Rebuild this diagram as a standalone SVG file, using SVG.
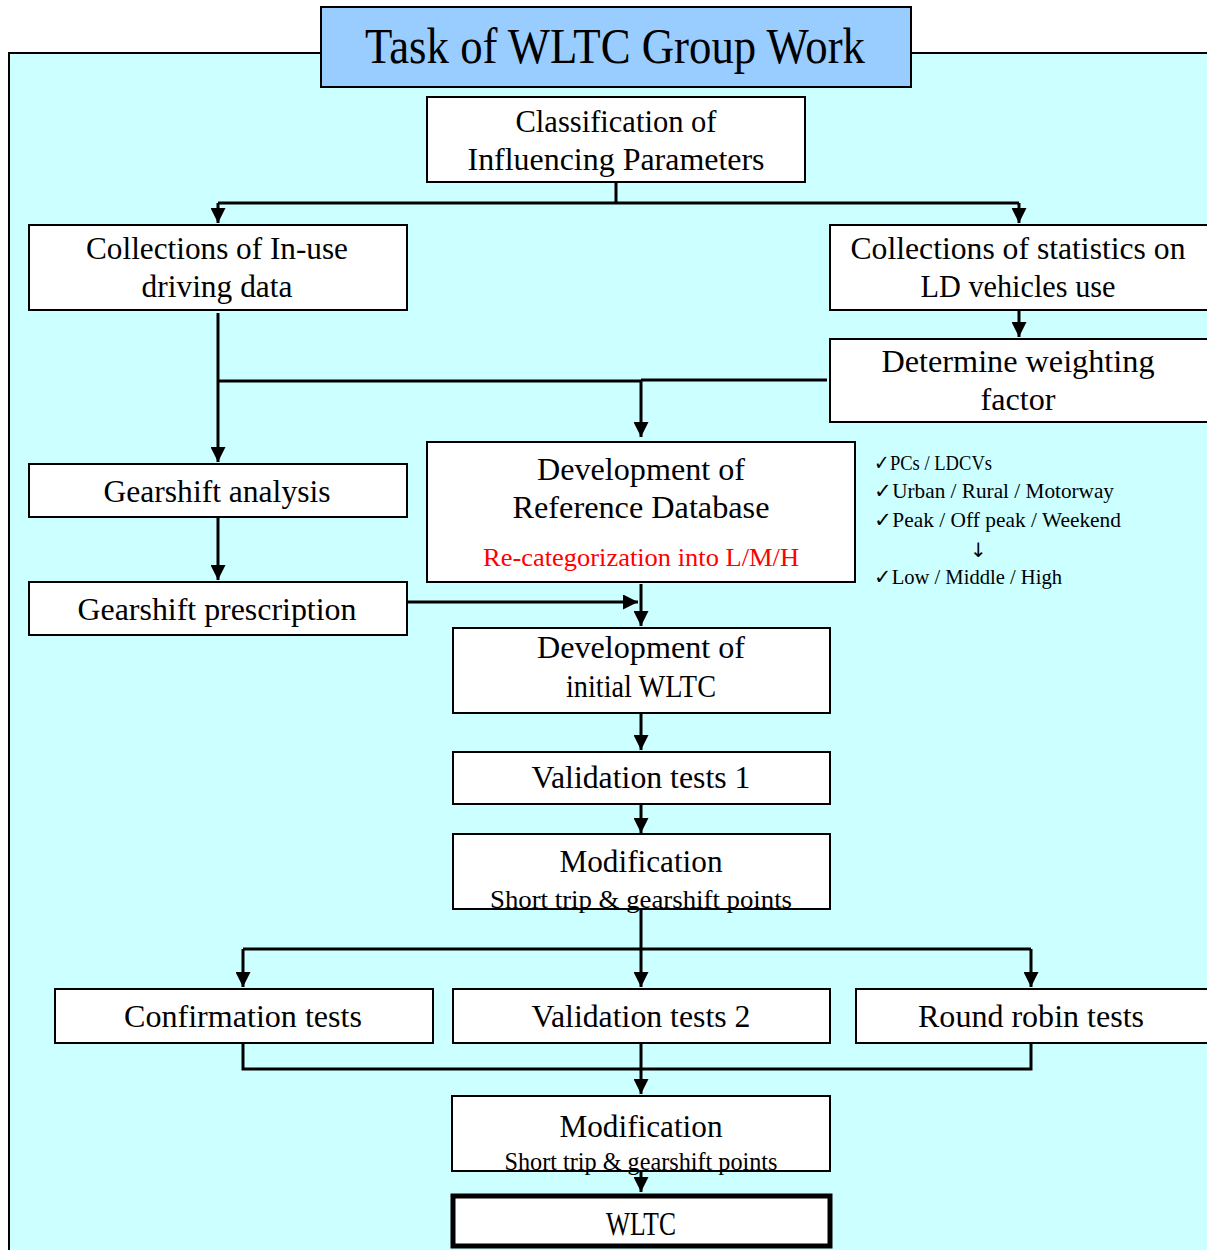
<svg xmlns="http://www.w3.org/2000/svg" width="1207" height="1250" viewBox="0 0 1207 1250">
<style>
.bx{fill:#fff;stroke:#000;stroke-width:2}
.t{font-family:"Liberation Serif","DejaVu Serif",serif;font-size:31px;fill:#000;text-anchor:middle}
.s{font-family:"Liberation Serif","DejaVu Serif",serif;font-size:26px;fill:#000;text-anchor:middle}
.n{font-family:"Liberation Serif","DejaVu Serif",serif;font-size:21px;fill:#000}
.c{fill:none;stroke:#000;stroke-width:3}
</style>
<defs>
<marker id="ah" viewBox="0 0 10 10" refX="10" refY="5" markerWidth="5" markerHeight="5" orient="auto" markerUnits="strokeWidth">
<path d="M0,0 L10,5 L0,10 z" fill="#000"/>
</marker>
</defs>
<rect x="9" y="53" width="1210" height="1210" fill="#CCFFFF" stroke="#000" stroke-width="2"/>
<g id="title">
<rect x="321" y="7" width="590" height="80" fill="#99CCFF" stroke="#000" stroke-width="2"/>
<text x="615" y="63" class="t" style="font-size:50px" textLength="500" lengthAdjust="spacingAndGlyphs">Task of WLTC Group Work</text>
</g>
<g id="connectors">
<path class="c" d="M616,182 V203 M218,203 H1019"/>
<path class="c" d="M218,203 V223" marker-end="url(#ah)"/>
<path class="c" d="M1019,203 V223" marker-end="url(#ah)"/>
<path class="c" d="M1019,310 V337" marker-end="url(#ah)"/>
<path class="c" d="M218,313 V462" marker-end="url(#ah)"/>
<path class="c" d="M218,381 H641 M641,380 H827"/>
<path class="c" d="M641,381 V437" marker-end="url(#ah)"/>
<path class="c" d="M218,517 V580" marker-end="url(#ah)"/>
<path class="c" d="M407,602 H638" marker-end="url(#ah)"/>
<path class="c" d="M641,584 V626" marker-end="url(#ah)"/>
<path class="c" d="M641,713 V750" marker-end="url(#ah)"/>
<path class="c" d="M641,804 V833" marker-end="url(#ah)"/>
<path class="c" d="M641,909 V987" marker-end="url(#ah)"/>
<path class="c" d="M243,949 H1031"/>
<path class="c" d="M243,949 V987" marker-end="url(#ah)"/>
<path class="c" d="M1031,949 V987" marker-end="url(#ah)"/>
<path class="c" d="M243,1043 V1069 H1031 V1043"/>
<path class="c" d="M641,1043 V1094" marker-end="url(#ah)"/>
<path class="c" d="M641,1171 V1192" marker-end="url(#ah)"/>
</g>
<g id="classification">
<rect class="bx" x="427" y="97" width="378" height="85"/>
<text class="t" x="616" y="132" textLength="201" lengthAdjust="spacingAndGlyphs">Classification of</text>
<text class="t" x="616" y="170" textLength="297" lengthAdjust="spacingAndGlyphs">Influencing Parameters</text>
</g>
<g id="inuse">
<rect class="bx" x="29" y="225" width="378" height="85"/>
<text class="t" x="217" y="259" textLength="262" lengthAdjust="spacingAndGlyphs">Collections of In-use</text>
<text class="t" x="217" y="297" textLength="151" lengthAdjust="spacingAndGlyphs">driving data</text>
</g>
<g id="statistics">
<rect class="bx" x="830" y="225" width="390" height="85"/>
<text class="t" x="1018" y="259" textLength="335" lengthAdjust="spacingAndGlyphs">Collections of statistics on</text>
<text class="t" x="1018" y="297" textLength="195" lengthAdjust="spacingAndGlyphs">LD vehicles use</text>
</g>
<g id="weighting">
<rect class="bx" x="830" y="339" width="390" height="83"/>
<text class="t" x="1018" y="372" textLength="273" lengthAdjust="spacingAndGlyphs">Determine weighting</text>
<text class="t" x="1018" y="410" textLength="75" lengthAdjust="spacingAndGlyphs">factor</text>
</g>
<g id="refdb">
<rect class="bx" x="427" y="442" width="428" height="140"/>
<text class="t" x="641" y="480" textLength="208" lengthAdjust="spacingAndGlyphs">Development of</text>
<text class="t" x="641" y="518" textLength="257" lengthAdjust="spacingAndGlyphs">Reference Database</text>
<text class="s" x="641" y="566" style="fill:#FF0000" textLength="316" lengthAdjust="spacingAndGlyphs">Re-categorization into L/M/H</text>
</g>
<g id="notes">
<text class="n" x="874" y="470" textLength="118" lengthAdjust="spacingAndGlyphs">✓PCs / LDCVs</text>
<text class="n" x="874" y="498" textLength="240" lengthAdjust="spacingAndGlyphs">✓Urban / Rural / Motorway</text>
<text class="n" x="874" y="527" textLength="247" lengthAdjust="spacingAndGlyphs">✓Peak / Off peak / Weekend</text>
<text class="n" x="970" y="557" style="font-family:'DejaVu Sans',sans-serif;font-size:20px">↓</text>
<text class="n" x="874" y="584" textLength="188" lengthAdjust="spacingAndGlyphs">✓Low / Middle / High</text>
</g>
<g id="gearanalysis">
<rect class="bx" x="29" y="464" width="378" height="53"/>
<text class="t" x="217" y="502" textLength="227" lengthAdjust="spacingAndGlyphs">Gearshift analysis</text>
</g>
<g id="gearprescription">
<rect class="bx" x="29" y="582" width="378" height="53"/>
<text class="t" x="217" y="620" textLength="279" lengthAdjust="spacingAndGlyphs">Gearshift prescription</text>
</g>
<g id="initialwltc">
<rect class="bx" x="453" y="628" width="377" height="85"/>
<text class="t" x="641" y="658" textLength="208" lengthAdjust="spacingAndGlyphs">Development of</text>
<text class="t" x="641" y="697" textLength="150" lengthAdjust="spacingAndGlyphs">initial WLTC</text>
</g>
<g id="validation1">
<rect class="bx" x="453" y="752" width="377" height="52"/>
<text class="t" x="641" y="788" textLength="219" lengthAdjust="spacingAndGlyphs">Validation tests 1</text>
</g>
<g id="modification1">
<rect class="bx" x="453" y="834" width="377" height="75"/>
<text class="t" x="641" y="872" textLength="163" lengthAdjust="spacingAndGlyphs">Modification</text>
<text class="s" x="641" y="908" textLength="302" lengthAdjust="spacingAndGlyphs">Short trip &amp; gearshift points</text>
</g>
<g id="confirmation">
<rect class="bx" x="55" y="989" width="378" height="54"/>
<text class="t" x="243" y="1027" textLength="238" lengthAdjust="spacingAndGlyphs">Confirmation tests</text>
</g>
<g id="validation2">
<rect class="bx" x="453" y="989" width="377" height="54"/>
<text class="t" x="641" y="1027" textLength="219" lengthAdjust="spacingAndGlyphs">Validation tests 2</text>
</g>
<g id="roundrobin">
<rect class="bx" x="856" y="989" width="364" height="54"/>
<text class="t" x="1031" y="1027" textLength="226" lengthAdjust="spacingAndGlyphs">Round robin tests</text>
</g>
<g id="modification2">
<rect class="bx" x="452" y="1096" width="378" height="75"/>
<text class="t" x="641" y="1137" textLength="163" lengthAdjust="spacingAndGlyphs">Modification</text>
<text class="s" x="641" y="1170" textLength="273" lengthAdjust="spacingAndGlyphs">Short trip &amp; gearshift points</text>
</g>
<g id="wltc">
<rect x="453" y="1196" width="377" height="50" fill="#fff" stroke="#000" stroke-width="5"/>
<text class="t" x="641" y="1235" style="font-size:33px" textLength="70" lengthAdjust="spacingAndGlyphs">WLTC</text>
</g>
</svg>
